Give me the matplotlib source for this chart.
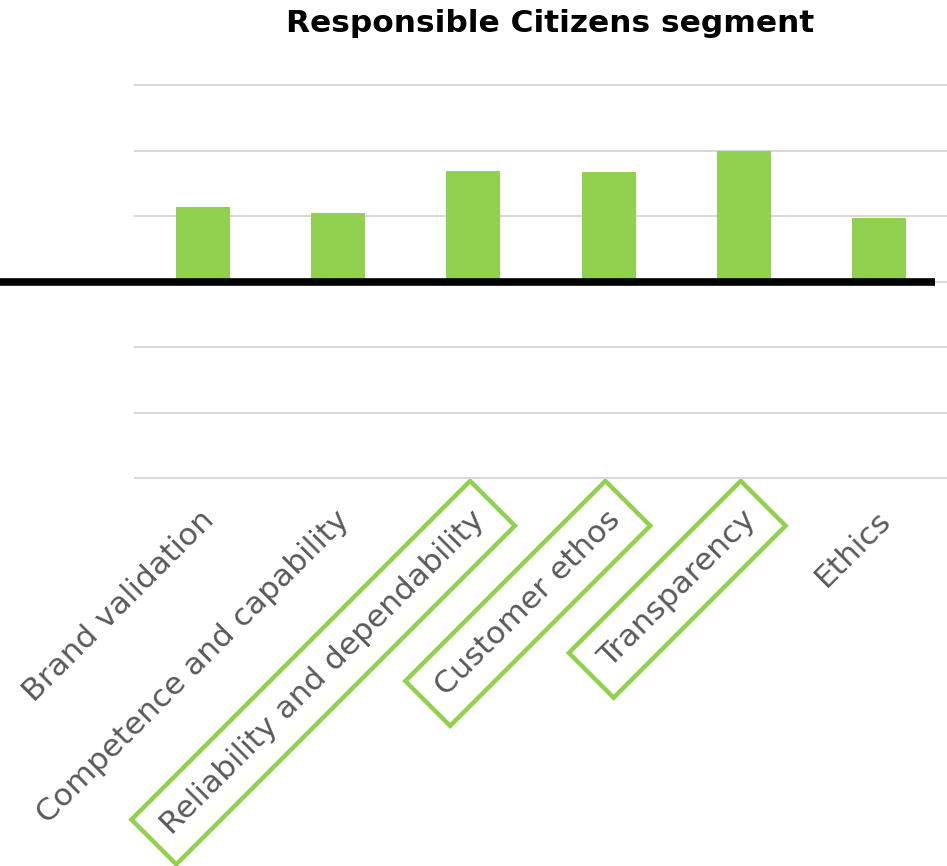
import matplotlib as mpl
import matplotlib.pyplot as plt
import matplotlib.transforms as mtransforms

categories = ["Brand validation", "Competence and capability", "Reliability and dependability",
              "Customer ethos", "Transparency", "Ethics"]
values = [1.14, 1.04, 1.69, 1.67, 1.99, 0.97]
highlighted = ["Reliability and dependability", "Customer ethos", "Transparency"]
grid_levels = [-3, -2, -1, 0, 1, 2, 3]

GREEN = "#92d050"
GRID = "#d9d9d9"
LABEL = "#595959"

W, H = 947, 866
fig = plt.figure(figsize=(W / 100, H / 100), dpi=100)
ax = fig.add_axes([135 / W, (H - 478) / H, (W - 135) / W, (478 - 85) / H])

x = list(range(len(categories)))
ax.bar(x, values, width=0.4, color=GREEN, zorder=2)

ax.set_xlim(-0.5, len(categories) - 0.5)
ax.set_ylim(grid_levels[0], grid_levels[-1])
ax.set_yticks(grid_levels)
ax.yaxis.grid(True, color=GRID, lw=1.5, zorder=0)
for gl in ax.get_ygridlines():
    gl.set_clip_on(False)
ax.tick_params(axis="y", length=0, labelleft=False)
ax.tick_params(axis="x", length=0, pad=27)
for s in ax.spines.values():
    s.set_visible(False)

ax.set_xticks(x)
ax.set_xticklabels(categories, rotation=45, ha="right", va="center",
                   rotation_mode="anchor", fontsize=22.5, color=LABEL)
shift = mtransforms.ScaledTranslation(7 / 100, 0, fig.dpi_scale_trans)
for lab in ax.get_xticklabels():
    lab.set_transform(lab.get_transform() + shift)
    if lab.get_text() in highlighted:
        lab.set_bbox(dict(boxstyle="square,pad=0.55", fc="none", ec=GREEN, lw=3.2))

# thick zero line running from the left edge of the figure
zero = mtransforms.blended_transform_factory(fig.transFigure, ax.transData)
ax.plot([0, 935 / W], [0, 0], color="black", lw=5.5, transform=zero,
        clip_on=False, zorder=3, solid_capstyle="butt")

fig.text(550 / W, 1 - 23 / H, "Responsible Citizens segment", ha="center", va="center",
         fontsize=22.5, fontweight="bold", color="black")

fig.savefig("out.png", dpi=100)
